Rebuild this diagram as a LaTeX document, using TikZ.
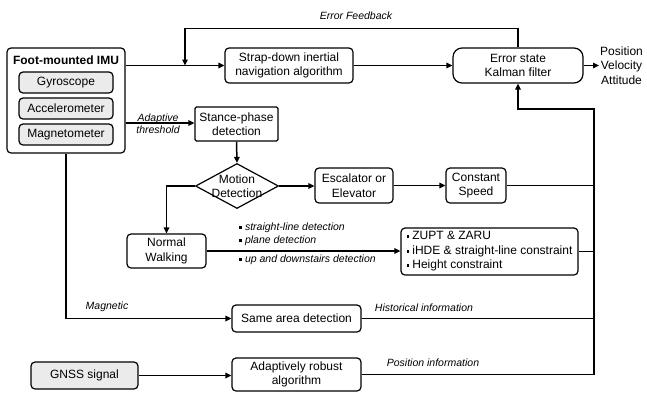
\documentclass[tikz,border=0pt]{standalone}
\usepackage{fontspec}
\setmainfont{Liberation Sans}
\usetikzlibrary{shapes.geometric,arrows.meta}
\definecolor{boxgray}{HTML}{EBEBEB}
\newcommand{\sqb}{\raisebox{1.8pt}{\rule{2.8pt}{2.8pt}}\hspace{3pt}}
\begin{document}
\begin{tikzpicture}[x=1pt,y=-1pt,
  every node/.style={font=\fontsize{12}{14.5}\selectfont},
  box/.style={draw, line width=1.2pt, rounded corners=4pt, inner sep=0pt, align=center},
  grbox/.style={box, fill=boxgray},
  lbl/.style={font=\fontsize{10.5}{12}\selectfont\itshape, inner sep=0pt},
  arr/.style={line width=1.5pt, -{Triangle[length=6pt,width=5.5pt]}},
  ln/.style={line width=1.5pt}]
\useasboundingbox (0,0) rectangle (647,392);
% IMU block
\node[box, minimum width=118pt, minimum height=105pt] (imu) at (66,100.5) {};
\node[font=\fontsize{12}{14}\selectfont\bfseries] (imut) at (66,60) {Foot-mounted IMU};
\node[grbox, minimum width=94pt, minimum height=21pt] (gyro) at (66,82.5) {Gyroscope};
\node[grbox, minimum width=94pt, minimum height=21pt] (acc) at (66,108.5) {Accelerometer};
\node[grbox, minimum width=94pt, minimum height=21pt] (mag) at (66,134.5) {Magnetometer};
% main boxes
\node[box, minimum width=128pt, minimum height=35pt] (sins) at (289,65.5) {Strap-down inertial\\navigation algorithm};
\node[box, rounded corners=9pt, minimum width=130pt, minimum height=35pt] (kf) at (518,65.5) {Error state\\Kalman filter};
\node[inner sep=1pt, align=center, anchor=west] (out) at (599,65.5) {Position\\Velocity\\Attitude};
\node[draw, line width=1.2pt, rounded corners=1.5pt, inner sep=0pt, align=center, minimum width=83pt, minimum height=34pt] (stance) at (236.5,124) {Stance-phase\\detection};
\node[diamond, draw, line width=1.2pt, inner sep=0pt, minimum width=83pt, minimum height=45pt] (md) at (237,186) {};
\node[align=center, inner sep=0pt] (mdt) at (md) {Motion\\Detection};
\node[box, minimum width=78pt, minimum height=35pt] (esc) at (354,185.5) {Escalator or\\Elevator};
\node[box, minimum width=60pt, minimum height=35pt] (cs) at (476,185.5) {Constant\\Speed};
\node[box, minimum width=79pt, minimum height=34pt] (nw) at (166.5,251) {Normal\\Walking};
\node[box, minimum width=177pt, minimum height=47pt, align=left] (zupt) at (489.5,251.5) {\sqb ZUPT \& ZARU\\\sqb iHDE \& straight-line constraint\\\sqb Height constraint};
\node[box, minimum width=129pt, minimum height=27pt] (same) at (296.5,318.5) {Same area detection};
\node[grbox, minimum width=107pt, minimum height=27pt] (gnss) at (84.5,375.5) {GNSS signal};
\node[box, minimum width=129pt, minimum height=33pt] (adapt) at (296.5,374.5) {Adaptively robust\\algorithm};
% coordinates
\coordinate (fb) at (185,65.5);
\coordinate (bt) at (594,109);
% connectors
\draw[arr] (imu.east |- sins.west) -- (sins.west);
\draw[arr] (kf.north) -- ++(0,-19) -| (fb);
\draw[arr] (sins.east) -- (kf.west);
\draw[arr] (kf.east) -- (out.west);
\draw[arr] (imu.east |- 0,123) -- (stance.west |- 0,123);
\draw[arr] (stance.south) -- (md.north);
\draw[arr] (md.east) -- (esc.west |- md.east);
\draw[arr] (esc.east) -- (cs.west);
\draw[ln] (cs.east) -- (bt |- cs.east);
\draw[arr] (md.west) -| (nw.north);
\draw[arr] (nw.east) -- (zupt.west |- nw.east);
\draw[ln] (zupt.east) -- (bt |- zupt.east);
\draw[arr] (imu.south) |- (same.west);
\draw[ln] (same.east) -- (bt |- same.east);
\draw[arr] (gnss.east) -- (adapt.west |- gnss.east);
\draw[arr] (adapt.east) -| (bt) -| (kf.south);
% labels
\node[lbl] (lfb) at (356,16) {Error Feedback};
\node[lbl, align=center] (lad) at (158,124) {Adaptive\\threshold};
\node[lbl, anchor=west] (l1) at (239,228) {\sqb straight-line detection};
\node[lbl, anchor=west] (l2) at (239,241) {\sqb plane detection};
\node[lbl, anchor=west] (l3) at (239,260) {\sqb up and downstairs detection};
\node[lbl] (lmag) at (107,307) {Magnetic};
\node[lbl] (lhist) at (424,308) {Historical information};
\node[lbl] (lpos) at (433,363) {Position information};
\end{tikzpicture}
\end{document}
